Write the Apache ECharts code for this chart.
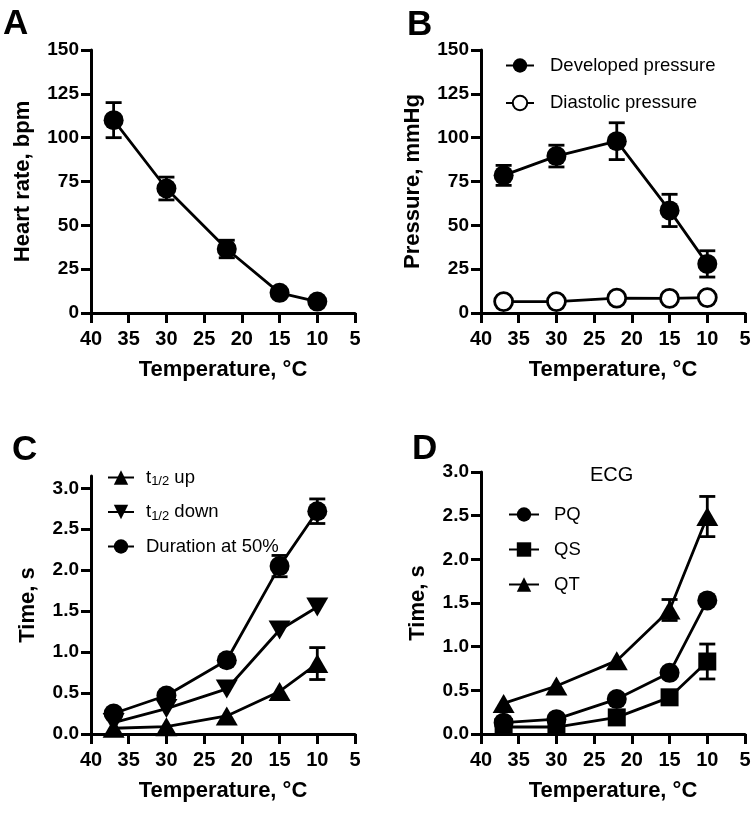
<!DOCTYPE html>
<html>
<head>
<meta charset="utf-8">
<script src="https://cdn.jsdelivr.net/npm/echarts@6/dist/echarts.min.js"></script>
<style>
  html, body { margin: 0; padding: 0; background: #fff; }
  #main { width: 752px; height: 814px; }
</style>
</head>
<body>
<div id="main"></div>
<script>
// temperatures (°C)
var temps = [37, 30, 22, 15, 10];

// A: heart rate
var heartRate = [110, 71, 36.5, 11.5, 6.5];
var heartRateErr = [10, 6.5, 5, 0, 0];

// B: pressures
var devPressure = [78.5, 89.5, 98, 58.5, 28];
var devPressureErr = [5.7, 6.2, 10.5, 9.2, 7.5];
var diaPressure = [6.5, 6.5, 8.5, 8.3, 8.8];

// C: contraction times
var halfUp = [0.07, 0.09, 0.22, 0.52, 0.86];
var halfUpErr = [0, 0, 0, 0, 0.195];
var halfDown = [0.14, 0.31, 0.55, 1.27, 1.55];
var dur50 = [0.25, 0.47, 0.90, 2.05, 2.72];
var dur50Err = [0, 0, 0, 0.13, 0.15];

// D: ECG intervals
var pq = [0.13, 0.17, 0.40, 0.70, 1.53];
var qs = [0.08, 0.08, 0.19, 0.42, 0.83];
var qsErr = [0, 0, 0, 0, 0.2];
var qt = [0.35, 0.55, 0.84, 1.42, 2.49];
var qtErr = [0, 0, 0, 0.12, 0.23];

var yTicksTime = [0, 0.5, 1, 1.5, 2, 2.5, 3];

var FONT = '"Liberation Sans", Arial, sans-serif';

function pairs(ys) {
  return temps.map(function (t, i) { return [t, ys[i]]; });
}
function errData(ys, es) {
  var out = [];
  temps.forEach(function (t, i) {
    if (es[i] > 0) out.push([t, ys[i], es[i]]);
  });
  return out;
}

function errRender(params, api) {
  var x = api.value(0), y = api.value(1), e = api.value(2);
  var hi = api.coord([x, y + e]);
  var lo = api.coord([x, y - e]);
  var w = 8;
  var st = { stroke: '#000', lineWidth: 2.8 };
  return {
    type: 'group',
    children: [
      { type: 'line', shape: { x1: hi[0], y1: hi[1], x2: lo[0], y2: lo[1] }, style: st },
      { type: 'line', shape: { x1: hi[0] - w, y1: hi[1], x2: hi[0] + w, y2: hi[1] }, style: st },
      { type: 'line', shape: { x1: lo[0] - w, y1: lo[1], x2: lo[0] + w, y2: lo[1] }, style: st }
    ]
  };
}

function xAx(idx) {
  return {
    type: 'value', gridIndex: idx, min: 5, max: 40, interval: 5, inverse: true,
    name: 'Temperature, °C', nameLocation: 'middle', nameGap: 46,
    nameTextStyle: { fontFamily: FONT, fontWeight: 'bold', fontSize: 22, color: '#000' },
    axisLine: { lineStyle: { color: '#000', width: 3 } },
    axisTick: { length: 10, lineStyle: { color: '#000', width: 3 } },
    axisLabel: { fontFamily: FONT, fontWeight: 'bold', fontSize: 20, color: '#000', margin: 16 },
    splitLine: { show: false }
  };
}
function yAx(idx, name, max, interval, gap, time) {
  var ax = {
    type: 'value', gridIndex: idx, min: 0, max: max, interval: interval,
    name: name, nameLocation: 'middle', nameGap: gap,
    nameTextStyle: { fontFamily: FONT, fontWeight: 'bold', fontSize: 22, color: '#000' },
    axisLine: { show: true, lineStyle: { color: '#000', width: 3 } },
    axisTick: { show: true, length: 10, lineStyle: { color: '#000', width: 3 } },
    axisLabel: { fontFamily: FONT, fontWeight: 'bold', fontSize: 19, color: '#000', margin: 12 },
    splitLine: { show: false }
  };
  if (time) {
    ax.axisLabel.formatter = function (v) { return v.toFixed(1); };
    ax.axisLabel.customValues = yTicksTime;
    ax.axisTick.customValues = yTicksTime;
  }
  return ax;
}

function lineSeries(name, idx, ys, symbol, size, rotate, open) {
  return {
    name: name, type: 'line', xAxisIndex: idx, yAxisIndex: idx,
    data: pairs(ys), symbol: symbol, symbolSize: size, symbolRotate: rotate || 0,
    showAllSymbol: true, z: 3,
    lineStyle: { color: '#000', width: 2.8 },
    itemStyle: open
      ? { color: '#fff', borderColor: '#000', borderWidth: 2.8 }
      : { color: '#000', borderColor: '#000', borderWidth: 0 },
    emphasis: { disabled: true },
    animation: false
  };
}
function errSeries(idx, ys, es) {
  return {
    type: 'custom', xAxisIndex: idx, yAxisIndex: idx, z: 2,
    renderItem: errRender, data: errData(ys, es), animation: false, silent: true
  };
}

function legendAt(left, top, names, gap, pad, iw, ih) {
  return {
    orient: 'vertical', left: left, top: top, itemGap: gap, padding: 0,
    itemWidth: iw, itemHeight: ih, selectedMode: false, data: names,
    textStyle: {
      fontFamily: FONT, fontSize: 18.5, color: '#000', padding: [0, 0, 0, pad],
      rich: {
        t: { fontFamily: FONT, fontSize: 18.5, color: '#000' },
        s: { fontFamily: FONT, fontSize: 13, color: '#000', verticalAlign: 'bottom', padding: [8, 0, 0, 0] }
      }
    },
    formatter: function (n) {
      if (n === 't1/2 up') return '{t|t}{s|1/2}{t| up}';
      if (n === 't1/2 down') return '{t|t}{s|1/2}{t| down}';
      return n;
    }
  };
}

function panelLabel(txt, left, top) {
  return { type: 'text', left: left, top: top,
    style: { text: txt, font: 'bold 35px ' + FONT, fill: '#000' } };
}

var option = {
  backgroundColor: '#fff',
  animation: false,
  grid: [
    { left: 91, top: 50, width: 264, height: 263, outerBoundsMode: 'none' },
    { left: 481, top: 50, width: 264, height: 263, outerBoundsMode: 'none' },
    { left: 91, top: 476, width: 264, height: 258, outerBoundsMode: 'none' },
    { left: 481, top: 472, width: 264, height: 262, outerBoundsMode: 'none' }
  ],
  xAxis: [xAx(0), xAx(1), xAx(2), xAx(3)],
  yAxis: [
    yAx(0, 'Heart rate, bpm', 150, 25, 57, false),
    yAx(1, 'Pressure, mmHg', 150, 25, 57, false),
    yAx(2, 'Time, s', 3.15, 0.5, 52, true),
    yAx(3, 'Time, s', 3, 0.5, 52, true)
  ],
  legend: [
    legendAt(505, 56, ['Developed pressure', 'Diastolic pressure'], 18.5, 11, 28, 18),
    legendAt(107, 468, ['t1/2 up', 't1/2 down', 'Duration at 50%'], 14.5, 7, 26, 18),
    legendAt(508, 505, ['PQ', 'QS', 'QT'], 16, 10, 30, 18)
  ],
  graphic: [
    panelLabel('A', 3, 7),
    panelLabel('B', 407, 8),
    panelLabel('C', 12, 433),
    panelLabel('D', 412, 432),
    { type: 'text', left: 590, top: 465,
      style: { text: 'ECG', font: '20px ' + FONT, fill: '#000' } }
  ],
  series: [
    errSeries(0, heartRate, heartRateErr),
    lineSeries('Heart rate', 0, heartRate, 'circle', 20),

    errSeries(1, devPressure, devPressureErr),
    lineSeries('Developed pressure', 1, devPressure, 'circle', 20),
    lineSeries('Diastolic pressure', 1, diaPressure, 'circle', 18, 0, true),

    errSeries(2, halfUp, halfUpErr),
    lineSeries('t1/2 up', 2, halfUp, 'triangle', [22, 19]),
    lineSeries('t1/2 down', 2, halfDown, 'triangle', [22, 19], 180),
    errSeries(2, dur50, dur50Err),
    lineSeries('Duration at 50%', 2, dur50, 'circle', 20),

    lineSeries('PQ', 3, pq, 'circle', 20),
    errSeries(3, qs, qsErr),
    lineSeries('QS', 3, qs, 'rect', 18),
    errSeries(3, qt, qtErr),
    lineSeries('QT', 3, qt, 'triangle', [22, 19])
  ]
};

var chart = echarts.init(document.getElementById('main'));
chart.setOption(option);
</script>
</body>
</html>
